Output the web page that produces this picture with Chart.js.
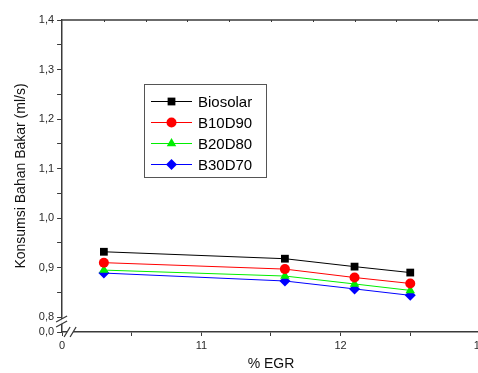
<!DOCTYPE html>
<html>
<head>
<meta charset="utf-8">
<script src="https://cdn.jsdelivr.net/npm/chart.js@4.4.1/dist/chart.umd.min.js"></script>
<style>
  html, body { margin: 0; padding: 0; background: #fff; overflow: hidden; }
  #wrap { width: 489px; height: 373px; }
</style>
</head>
<body>
<div id="wrap"><canvas id="fuelChart" width="489" height="373"></canvas></div>
<script>
// data
const egr = [10.3, 11.6, 12.1, 12.5];
const biosolar = [0.932, 0.918, 0.902, 0.890];
const b10d90 = [0.910, 0.897, 0.880, 0.868];
const b20d80 = [0.895, 0.883, 0.867, 0.854];
const b30d70 = [0.889, 0.873, 0.857, 0.844];

// ticks (broken axes: bottom value stands in for 0)
const yTicks = [0.77, 0.8, 0.85, 0.9, 0.95, 1.0, 1.05, 1.1, 1.15, 1.2, 1.25, 1.3, 1.35, 1.4];
const yBreakValue = 0.77;
const xTicks = [10, 10.5, 11, 11.5, 12, 12.5, 13];
const xBreakValue = 10;

const axisColor = '#3a3a3a';
const labelColor = '#2a2a2a';

function pts(ys) {
    return ys.map((y, i) => ({ x: egr[i], y: y }));
}

function series(label, ys, color, style, radius) {
    return {
        label: label,
        data: pts(ys),
        borderColor: color,
        backgroundColor: color,
        borderWidth: 1,
        pointStyle: style,
        pointRadius: radius,
        pointBorderWidth: 0,
        tension: 0
    };
}

// legend box, top axis ticks and the axis break marks
const extras = {
    id: 'extras',
    afterDraw(chart) {
        const c = chart.ctx;
        const area = chart.chartArea;
        const xs = chart.scales.x;
        const ys = chart.scales.y;

        // top border with small inward ticks
        c.save();
        c.strokeStyle = axisColor;
        c.lineWidth = 1.5;
        c.beginPath();
        c.moveTo(area.left, area.top);
        c.lineTo(area.right + 10, area.top);
        c.stroke();
        c.lineWidth = 1;
        c.beginPath();
        for (let v = 10.3; v < 13.2; v += 0.3) {
            const px = Math.round(xs.getPixelForValue(v)) + 0.5;
            c.moveTo(px, area.top);
            c.lineTo(px, area.top + 2);
        }
        c.stroke();

        // y axis break
        const yb = ys.getPixelForValue(yBreakValue);
        const y1 = yb - 13, y2 = yb - 8;
        c.fillStyle = '#fff';
        c.fillRect(area.left - 1, y1, 3, y2 - y1);
        c.strokeStyle = axisColor;
        c.lineWidth = 1.3;
        c.beginPath();
        c.moveTo(area.left - 6, y1 + 3); c.lineTo(area.left + 5, y1 - 3);
        c.moveTo(area.left - 6, y2 + 3); c.lineTo(area.left + 5, y2 - 3);
        c.stroke();

        // x axis break
        const xb = xs.getPixelForValue(xBreakValue);
        const x1 = xb + 5, x2 = xb + 11;
        c.fillStyle = '#fff';
        c.fillRect(x1, area.bottom - 1.5, x2 - x1, 3);
        c.beginPath();
        c.moveTo(x1 - 3, area.bottom + 5); c.lineTo(x1 + 3, area.bottom - 5);
        c.moveTo(x2 - 3, area.bottom + 5); c.lineTo(x2 + 3, area.bottom - 5);
        c.stroke();

        // legend
        const lx = 144, ly = 84, lw = 122, lh = 93;
        c.strokeStyle = '#555';
        c.lineWidth = 1;
        c.strokeRect(lx + 0.5, ly + 0.5, lw, lh);
        c.font = '15px "Liberation Sans", Arial, sans-serif';
        c.textBaseline = 'middle';
        c.textAlign = 'left';
        chart.data.datasets.forEach((ds, i) => {
            const ry = ly + 17.5 + i * 21;
            c.strokeStyle = ds.borderColor;
            c.lineWidth = 1;
            c.beginPath();
            c.moveTo(lx + 7, ry);
            c.lineTo(lx + 48, ry);
            c.stroke();
            c.fillStyle = ds.backgroundColor;
            Chart.helpers.drawPoint(c, {
                pointStyle: ds.pointStyle,
                radius: ds.pointRadius,
                borderWidth: 0,
                rotation: 0
            }, lx + 27.5, ry);
            c.fillStyle = '#000';
            c.fillText(ds.label, lx + 54, ry + 1);
        });
        c.restore();
    }
};

const ctx = document.getElementById('fuelChart');
new Chart(ctx, {
    type: 'line',
    data: {
        datasets: [
            series('Biosolar', biosolar, '#000000', 'rect', 5.5),
            series('B10D90', b10d90, '#ff0000', 'circle', 5),
            series('B20D80', b20d80, '#00ee00', 'triangle', 5.5),
            series('B30D70', b30d70, '#0000ff', 'rectRot', 5.5)
        ]
    },
    options: {
        responsive: false,
        animation: false,
        layout: { padding: { left: 9, top: 20, right: 0, bottom: 0 } },
        plugins: {
            legend: { display: false },
            tooltip: { enabled: false }
        },
        scales: {
            x: {
                type: 'linear',
                min: 10,
                max: 13,
                afterBuildTicks: axis => { axis.ticks = xTicks.map(v => ({ value: v })); },
                ticks: {
                    color: labelColor,
                    font: { family: '"Liberation Sans", Arial, sans-serif', size: 11 },
                    padding: 3,
                    maxRotation: 0,
                    autoSkip: false,
                    callback: v => v === xBreakValue ? '0' : (Number.isInteger(v) ? String(v) : '')
                },
                grid: { drawOnChartArea: false, drawTicks: true, tickLength: 4, color: axisColor, tickWidth: 1 },
                border: { display: true, color: axisColor, width: 1.5 },
                title: {
                    display: true,
                    text: '% EGR',
                    color: '#111',
                    font: { family: '"Liberation Sans", Arial, sans-serif', size: 14 },
                    padding: { top: 1, bottom: 0 }
                }
            },
            y: {
                min: yBreakValue,
                max: 1.4,
                afterBuildTicks: axis => { axis.ticks = yTicks.map(v => ({ value: v })); },
                ticks: {
                    color: labelColor,
                    font: { family: '"Liberation Sans", Arial, sans-serif', size: 11 },
                    padding: 3,
                    autoSkip: false,
                    callback: v => {
                        if (v === yBreakValue) return '0,0';
                        const r = Math.round(v * 100);
                        return r % 10 === 0 ? (r / 100).toFixed(1).replace('.', ',') : '';
                    }
                },
                grid: { drawOnChartArea: false, drawTicks: true, tickLength: 5, color: axisColor, tickWidth: 1 },
                border: { display: true, color: axisColor, width: 1.5 },
                title: {
                    display: true,
                    text: 'Konsumsi Bahan Bakar (ml/s)',
                    color: '#111',
                    font: { family: '"Liberation Sans", Arial, sans-serif', size: 14 },
                    padding: { top: 4, bottom: 6 }
                }
            }
        }
    },
    plugins: [extras]
});
</script>
</body>
</html>
